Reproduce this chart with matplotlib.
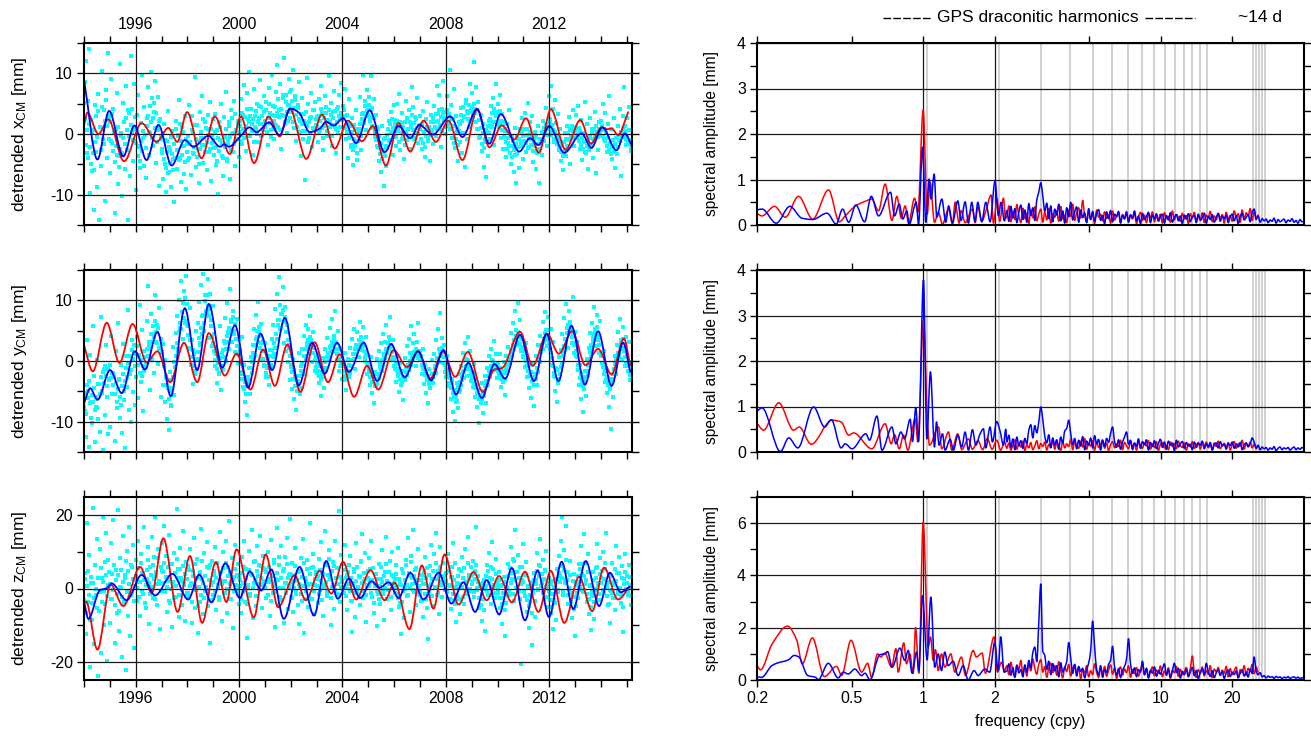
import numpy as np
import matplotlib
matplotlib.use("Agg")
import matplotlib.pyplot as plt
from matplotlib.path import Path
from matplotlib.patches import PathPatch
from matplotlib.lines import Line2D
from matplotlib.ticker import MultipleLocator, FixedLocator, FixedFormatter, NullLocator

plt.rcParams['font.family'] = ['Liberation Sans', 'DejaVu Sans']
plt.rcParams['mathtext.default'] = 'regular'
plt.rcParams['axes.unicode_minus'] = False

# ---------------------------------------------------------------- time series
# smoothed geocenter motion (year, mm): red = SLR, blue = GPS
x_red = [(1994.00, 1.4), (1994.13, 3.5), (1994.56, 0.0), (1994.94, 2.4), (1995.55, -4.5), (1996.23, 1.8),
         (1996.81, -1.3), (1997.26, 1.0), (1997.61, -1.3), (1997.99, 3.6), (1998.55, -4.0), (1999.06, 2.9),
         (1999.64, -3.3), (2000.07, 2.9), (2000.58, -4.8), (2001.14, 2.9), (2001.57, -0.4), (2001.96, 4.2),
         (2002.60, -4.1), (2003.21, 3.2), (2003.70, -2.4), (2004.21, 2.2), (2004.76, -1.2), (2005.17, 1.3),
         (2005.68, -5.2), (2006.17, 1.8), (2006.62, -2.9), (2007.14, 2.2), (2007.61, -1.3), (2008.10, 2.2),
         (2008.64, -4.3), (2009.22, 4.1), (2009.68, -2.2), (2010.16, 1.4), (2010.65, -0.9), (2011.10, 2.6),
         (2011.60, -3.1), (2012.06, 4.1), (2012.63, -2.6), (2013.20, 2.3), (2013.61, -1.6), (2014.02, 1.1),
         (2014.25, 0.8), (2014.42, 0.9), (2014.66, -0.2), (2015.05, 3.6)]
x_blue = [(1994.00, 9.0), (1994.52, -4.2), (1994.97, 3.8), (1995.52, -3.7), (1995.95, 1.4), (1996.42, -4.3),
          (1996.88, 1.5), (1997.39, -5.2), (1997.90, -1.0), (1998.23, -2.1), (1998.81, -0.3), (1999.26, -2.1),
          (1999.43, -1.7), (1999.60, -2.1), (2000.03, -0.5), (2000.41, 1.1), (2000.67, 0.3), (2001.16, 1.9),
          (2001.57, -0.2), (2001.98, 4.2), (2002.32, 3.5), (2002.73, 0.3), (2003.12, 0.9), (2003.37, 2.0),
          (2003.66, 1.4), (2004.02, 2.6), (2004.53, -1.5), (2005.05, 3.9), (2005.63, -3.0), (2006.17, 1.3),
          (2006.62, -0.7), (2006.97, 1.5), (2007.49, -0.1), (2008.17, 2.9), (2008.64, -0.5), (2009.20, 4.1),
          (2009.68, -1.6), (2010.12, 3.3), (2010.84, -2.9), (2011.25, -0.7), (2011.58, -1.8), (2012.00, 1.3),
          (2012.58, -3.1), (2013.25, 0.1), (2013.63, -2.3), (2014.05, 1.1), (2014.60, -2.7), (2014.92, 0.1),
          (2015.18, -1.8)]

y_red = [(1994.00, 2.6), (1994.34, -1.7), (1994.88, 6.3), (1995.37, -0.3), (1995.88, 6.1), (1996.42, -0.2),
         (1996.84, 1.6), (1997.33, -3.5), (1997.87, 3.0), (1998.38, -3.5), (1998.83, 4.6), (1999.45, -2.4),
         (1999.90, 1.2), (2000.44, -4.7), (2000.93, 1.9), (2001.38, -4.1), (2001.87, 2.7), (2002.37, -5.1),
         (2002.92, 3.1), (2003.44, -3.5), (2003.89, 1.1), (2004.45, -5.9), (2004.95, -0.8), (2005.38, -4.7),
         (2005.98, 1.8), (2006.50, -1.0), (2006.92, 1.6), (2007.40, -2.9), (2007.88, 1.6), (2008.36, -2.6),
         (2008.85, 1.5), (2009.43, -5.1), (2009.88, -1.4), (2010.16, -1.2), (2010.87, 4.8), (2011.36, -0.8),
         (2011.91, 4.5), (2012.37, 1.2), (2012.89, 4.9), (2013.40, -0.7), (2013.89, 2.0), (2014.41, -2.2),
         (2014.89, 3.7), (2015.13, -0.7)]
y_blue = [(1994.00, -7.0), (1994.24, -4.5), (1994.52, -6.4), (1995.01, -1.5), (1995.46, -5.3), (1995.97, 1.6),
          (1996.36, -1.4), (1996.84, 4.8), (1997.36, -5.8), (1997.90, 8.7), (1998.38, -1.5), (1998.83, 9.4),
          (1999.35, -1.1), (1999.84, 5.9), (2000.35, -4.4), (2000.83, 4.5), (2001.28, -1.5), (2001.77, 7.1),
          (2002.31, -4.0), (2002.82, 3.0), (2003.31, -2.1), (2003.79, 3.0), (2004.25, -1.8), (2004.82, 3.0),
          (2005.34, -3.3), (2005.88, 2.8), (2006.41, -2.7), (2006.92, 1.6), (2007.43, -3.2), (2007.91, 1.8),
          (2008.39, -5.5), (2008.87, -0.3), (2009.39, -6.1), (2009.88, -0.5), (2010.29, -2.9), (2010.87, 4.3),
          (2011.41, -3.3), (2011.90, 4.5), (2012.35, -3.3), (2012.86, 5.8), (2013.38, -3.9), (2013.89, 4.9),
          (2014.41, -4.1), (2014.86, 3.0), (2015.13, -1.8)]

z_red = [(1994.00, -3.9), (1994.08, -3.6), (1994.52, -16.7), (1995.03, 1.1), (1995.52, -4.8), (1996.17, 5.9),
         (1996.62, -1.2), (1997.07, 13.7), (1997.62, -6.4), (1998.10, 8.9), (1998.57, -9.4), (1999.10, 7.2),
         (1999.51, -3.7), (1999.90, 10.7), (2000.57, -7.9), (2001.03, 9.3), (2001.51, -5.1), (2002.15, 3.6),
         (2002.58, -3.2), (2003.12, 4.8), (2003.57, -1.4), (2004.02, 7.3), (2004.53, -3.0), (2005.08, 5.0),
         (2005.63, -3.2), (2006.02, 1.6), (2006.59, -11.1), (2007.07, 6.3), (2007.52, -5.5), (2007.95, 9.3),
         (2008.49, -4.4), (2009.07, 4.5), (2009.58, -3.2), (2010.06, 3.4), (2010.55, -3.8), (2011.06, 4.6),
         (2011.58, -6.4), (2012.06, 4.8), (2012.58, -9.4), (2013.15, 3.2), (2013.66, -6.2), (2014.12, 5.7),
         (2014.66, -3.0), (2015.11, 0.5)]
z_blue = [(1994.00, -3.5), (1994.17, -8.3), (1994.62, -0.4), (1994.85, 0.0), (1995.07, 1.4), (1995.65, -3.2),
          (1996.23, 3.7), (1996.75, -1.9), (1997.42, 4.0), (1998.03, -3.0), (1998.46, 3.8), (1998.93, -3.8),
          (1999.47, 6.9), (2000.03, -2.6), (2000.41, 4.7), (2000.86, -0.5), (2001.25, 5.2), (2001.73, -8.3),
          (2002.34, 5.9), (2002.90, -7.4), (2003.37, 7.5), (2003.82, -2.8), (2004.25, 2.7), (2004.69, -2.6),
          (2005.12, 2.0), (2005.43, 0.2), (2005.79, 1.7), (2006.17, -2.6), (2006.62, 4.3), (2007.14, -3.0),
          (2007.72, 4.3), (2008.21, -4.1), (2008.68, 1.7), (2009.13, -6.4), (2009.58, 2.3), (2010.06, -7.1),
          (2010.55, 5.6), (2011.06, -8.7), (2011.55, 4.9), (2011.99, -7.8), (2012.48, 7.3), (2012.93, -5.6),
          (2013.41, 7.5), (2013.93, -4.8), (2014.34, 4.3), (2014.77, -1.0), (2015.11, 0.5)]

# raw daily solutions, thinned to two values every 0.04 yr (a wide pass and a core pass),
# one row per year (mm)
pts_start_year = 1994
pts_step = 0.04
x_pts = [
    [8.5, 12.1, -3.2, 5.4, 14.0, -9.8, 2.3, -6.1, 0.7, -12.5, 4.8, -2.9, -8.7, 6.6, -14.2, 1.2, -5.3, 10.4, -0.8, 3.9, -11.1, 7.2, -4.0, 13.3, 2.6],
    [-6.4, 9.1, -1.5, 4.2, -13.0, 0.9, 6.8, -8.2, -3.7, 11.6, -0.4, -10.3, 5.1, 2.0, -5.8, 7.9, -2.6, -14.1, 3.4, -7.0, 12.8, 0.3, -4.5, 8.3, -1.1],
    [-9.2, 3.1, 6.4, -2.2, -5.6, 1.8, 9.7, -0.6, 4.5, -7.3, 2.7, 7.8, -3.4, 0.2, 10.3, 5.9, -1.9, 3.6, 8.8, -4.7, 1.0, 6.1, -8.5, 2.4, -0.9],
    [-3.1, -7.4, 1.6, -5.0, -9.6, -1.2, 3.8, -6.3, -2.7, -8.8, 0.5, -4.1, -11.2, 2.2, -5.7, -0.3, 5.6, -3.9, -7.9, 1.1, -2.0, -6.6, 3.0, -9.0, -1.6],
    [-4.3, 4.7, -1.4, -6.8, 2.9, 0.1, -3.3, 9.4, -5.5, 1.5, -2.5, -8.1, 3.7, -0.7, 6.3, -4.8, -1.8, 2.0, -6.0, 0.8, -3.0, 5.2, -7.7, -0.2, 2.5],
    [-2.3, 3.3, -5.1, 0.6, -9.9, 1.9, -1.0, 4.9, -3.6, -6.9, 2.8, -0.5, 7.0, -4.4, -1.7, 1.4, -7.4, 3.9, 0.0, -2.9, 5.5, -5.2, -0.9, 2.1, -3.8],
    [1.3, 5.8, -1.6, 3.2, 8.1, 0.4, -2.8, 6.7, 2.4, 10.2, -0.3, 4.1, 1.7, -3.5, 7.4, 3.0, 0.9, 5.0, -1.3, 2.6, 8.9, 4.4, -0.1, 1.6, 6.2],
    [2.1, 5.3, -1.8, 7.6, 3.5, 0.7, 9.8, 4.6, -0.9, 2.9, 6.9, 11.4, 1.2, 4.0, 8.3, -2.4, 3.1, 5.9, 12.6, 1.9, 6.5, 0.2, 4.8, 9.1, 2.7],
    [7.3, 3.8, 10.5, 1.0, 5.6, -1.2, 4.3, 8.6, 2.2, -3.6, 6.0, 0.5, 3.3, -7.5, 1.8, 9.3, 4.9, -0.6, 2.6, 6.8, -2.1, 3.9, 0.9, 5.2, 1.5],
    [2.8, -1.4, 5.7, 0.6, 7.9, 3.4, -2.6, 1.3, 6.2, 4.5, -0.4, 9.6, 2.0, 5.1, -1.9, 3.6, 7.1, 1.1, -3.2, 4.2, 0.3, 6.4, 2.5, 8.4, 3.0],
    [4.6, 1.2, 7.5, -0.8, 3.1, -3.9, 5.8, 0.2, -2.2, 2.7, -5.1, 1.5, -1.3, 4.0, -4.3, 0.8, 6.1, -2.7, 3.3, 9.8, 2.4, 5.5, 0.6, 7.2, 3.9],
    [6.1, 2.8, 9.6, 4.3, 1.0, 5.7, -0.5, 3.2, -2.0, 0.9, -4.4, -1.6, -6.3, 1.4, -3.0, -8.6, -0.7, -5.2, -2.3, 2.1, -1.0, 3.6, 0.4, -3.4, 4.7],
    [2.3, -1.9, 4.9, 0.5, 6.6, -2.7, 1.8, 3.5, -0.3, -4.1, 2.0, 5.4, -1.0, 0.8, 3.9, -2.4, 1.3, 7.7, 4.4, -0.8, 2.8, 0.1, 5.9, -1.5, 3.0],
    [1.5, -2.5, 3.8, 0.3, -3.8, 2.4, 5.2, -0.9, 1.1, -4.5, 3.1, 0.6, -1.7, 4.6, 2.0, -0.4, 7.9, 3.3, 6.4, 1.0, -2.2, 4.1, 8.8, 2.6, 0.0],
    [3.7, 6.3, 1.4, 10.6, 4.8, -0.6, 2.5, 7.4, -2.3, 3.0, 0.7, -4.4, 1.9, -1.3, 4.3, -3.1, 0.2, 2.8, -5.5, 5.6, -0.9, 3.5, 1.1, 8.2, 4.0],
    [6.7, 2.9, 11.9, 4.2, 7.8, 0.9, 5.3, -0.6, 3.1, -2.8, 1.6, -5.4, -1.4, -7.1, 0.4, -3.6, 2.2, -0.9, 4.6, 1.3, 6.0, -1.8, 3.4, 8.3, 2.0],
    [4.9, 1.2, 6.5, -0.7, 3.3, -2.4, 2.0, 0.5, -3.8, 1.7, -1.5, 4.0, -4.9, -0.3, -2.0, -6.2, 1.0, -8.0, -3.3, -0.8, -5.6, 0.9, -1.9, 2.6, -4.1],
    [-1.1, 3.4, -3.0, 0.8, 5.1, -2.2, 1.9, -0.4, 3.0, -4.6, -1.6, 0.3, -5.8, -2.7, 1.4, -8.1, -0.9, -3.5, 2.2, -1.2, 0.6, 4.3, -2.0, 1.1, 6.2],
    [2.5, 7.9, 0.4, 4.1, -1.3, 5.6, 1.8, -0.2, 3.3, -2.6, 0.9, -4.4, -1.7, -6.0, -2.9, 0.1, -3.7, 1.4, -0.8, 2.8, -5.0, 0.6, 3.9, -1.9, 1.2],
    [3.1, -0.5, 4.6, 1.0, -2.4, 2.3, -4.3, 0.2, -1.4, 5.3, -3.1, 1.6, -5.7, -0.7, 2.7, -2.0, 0.8, -4.0, -1.1, 3.6, -6.4, 0.4, -2.6, 1.9, -0.3],
    [2.2, 5.0, -0.9, 3.4, 0.5, -2.9, 1.7, 6.3, -1.5, 0.9, -4.1, -2.2, 2.6, -5.6, -0.6, -3.3, 1.3, -1.0, 4.1, -7.0, 0.3, 3.0, 7.8, 1.4, -1.8],
    [2.6, -1.2, 4.4, 0.7, -2.8],
]
x_pts_core = [
    [5.1, 2.4, -1.8, 0.6, -3.9, 1.7, -2.2, -5.0, 0.2, -3.1, -6.0, -1.4, 2.9, -0.5, 3.8, 1.1, -2.7, 4.5, 0.8, -1.6, 2.2, 5.6, 1.4, 3.0, -0.9],
    [2.0, -1.2, 3.3, -2.8, 0.4, -4.6, -1.9, -3.5, 1.2, -5.4, -2.4, 0.1, -3.2, -0.6, 1.9, -1.7, 2.6, 0.7, 3.9, -0.3, 1.5, 4.1, -1.0, 0.9, 2.8],
    [-1.5, 0.8, -3.6, -2.0, -4.4, -1.1, -2.8, 0.5, -5.2, -0.2, -2.3, 1.4, 3.0, 0.3, 4.6, 1.9, -0.7, 2.7, 5.1, 1.0, 3.4, -1.4, 0.6, 2.2, -0.4],
    [-2.4, 0.2, -4.1, -1.0, -5.6, -3.0, -6.4, -2.1, -4.8, -0.5, -3.3, -5.9, -1.6, -3.9, 0.9, -2.6, -0.1, -4.3, 1.6, -1.2, -3.5, 0.4, -2.0, -4.6, -0.8],
    [-2.9, -0.4, -4.0, -1.6, 0.7, -3.2, -2.2, 1.5, -0.9, -3.8, -1.1, -5.0, -2.5, 0.3, -1.8, 2.4, -0.6, -2.9, 1.0, -1.3, 3.1, -0.2, -2.4, 0.9, -1.5],
    [-1.0, -3.4, 0.4, -2.1, -4.5, -0.7, -2.8, 1.2, -1.5, -3.9, -0.3, -2.2, 0.8, -4.1, -1.2, 1.9, -0.5, -2.6, 2.6, 0.1, -1.7, 3.3, 0.6, -0.9, 1.5],
    [0.3, 2.2, -1.1, 3.5, 0.9, -0.6, 2.8, 1.4, 4.1, -0.2, 1.9, 3.0, 0.5, 2.5, -1.3, 1.1, 3.8, 0.0, 2.0, 4.6, 1.6, -0.4, 2.9, 0.7, 3.6],
    [1.2, 3.9, 0.4, 2.6, 5.0, 1.8, -0.5, 3.1, 0.9, 2.2, 4.4, 1.5, 3.4, 5.8, 2.8, 0.6, 4.1, 6.5, 3.0, 1.7, 5.3, 3.6, 2.1, 4.8, 6.9],
    [3.6, 5.5, 2.0, 4.3, 6.2, 3.1, 1.2, 4.7, 2.5, 0.3, 3.3, 1.6, -0.8, 2.2, 0.5, 3.7, 1.3, -1.4, 1.9, 0.2, 2.8, 1.0, 3.9, 0.6, 2.4],
    [1.4, 3.0, 0.2, 2.1, 4.2, 1.0, -0.7, 2.6, 1.7, 3.5, 0.5, 2.3, 4.0, 1.2, 3.2, -0.3, 2.7, 1.5, 3.8, 0.9, 2.0, 4.5, 2.9, 1.1, 3.4],
    [2.3, 3.9, 1.0, 2.9, 0.4, 2.0, -0.6, 1.3, -1.8, 0.3, -2.7, -0.9, -1.9, 0.8, -3.2, -1.2, 0.1, 1.6, -0.4, 2.5, 3.4, 1.8, 4.6, 2.9, 3.8],
    [3.2, 4.8, 2.1, 3.9, 1.4, 2.7, 0.3, -1.0, 1.2, -2.2, -0.4, -3.3, -1.5, -4.1, -2.6, -0.8, -3.7, -1.9, -0.2, 0.9, -1.1, 1.7, 0.2, 2.4, 1.0],
    [0.5, 1.6, -0.5, 2.2, 0.8, -1.3, 1.9, 0.1, -0.9, 1.1, -1.8, 0.4, 2.7, 0.9, -0.4, 2.0, 1.2, 3.1, 0.6, 1.8, -0.7, 2.5, 1.0, 0.0, 1.5],
    [0.9, -0.8, 1.6, -1.5, 0.3, -2.1, -0.4, 1.2, -1.1, 0.6, -0.2, 1.9, 0.4, 2.6, 1.1, 3.3, 0.8, 2.2, 3.9, 1.5, 2.8, 0.5, 3.5, 2.1, 1.2],
    [2.7, 4.0, 1.8, 3.3, 0.9, 2.4, -0.6, 1.3, -1.5, 0.2, -0.9, 1.0, -1.8, 0.5, 1.7, 3.1, 2.2, 4.4, 3.0, 5.1, 3.8, 2.5, 4.7, 1.9, 3.6],
    [4.3, 2.8, 5.0, 3.5, 1.9, 3.9, 0.8, 2.3, -0.5, 1.0, -1.6, 0.1, -2.3, -0.9, 0.6, -1.4, 1.4, 0.2, 2.5, 1.1, 3.4, 2.0, 4.2, 2.9, 3.7],
    [3.0, 1.5, 3.8, 2.2, 0.6, 1.6, -0.5, 0.9, -1.3, -2.4, -0.7, -1.9, -3.2, -2.0, -3.8, -1.1, -2.7, -3.5, -1.6, -0.4, -2.2, -0.9, 0.5, -1.3, 0.1],
    [-0.4, 0.8, -1.5, -0.2, -2.3, -0.9, 0.4, -1.8, -0.6, -2.8, -1.2, -2.0, -0.5, -3.1, -1.6, -2.4, -0.8, -1.7, 0.3, -0.9, 1.0, 0.2, 1.7, -0.1, 0.9],
    [1.1, 2.0, -0.2, 1.5, 0.6, -0.8, 0.3, -1.6, -0.5, -2.2, -1.1, -3.0, -2.0, -3.6, -1.4, -2.7, -0.8, -1.9, 0.2, -1.0, 0.8, -0.3, 1.3, 0.5, -0.6],
    [0.4, -0.6, 1.0, -0.1, -1.2, 0.5, -1.8, -0.7, -2.5, -1.4, -3.0, -2.0, -1.1, -2.6, -0.4, -1.6, 0.3, -0.8, 0.9, -0.2, 1.4, 0.1, -0.5, 0.8, 0.0],
    [0.7, 1.3, -0.3, 0.8, -1.1, 0.2, -1.9, -0.7, -2.6, -1.5, -3.3, -2.2, -1.0, -2.9, -1.7, -0.6, -2.1, -0.2, -1.2, 0.4, -0.5, 0.9, -0.3, 0.5, -1.0],
    [-0.5, -1.7, 0.6, -1.0, -2.2],
]
y_pts = [
    [-8.2, -12.6, 3.4, -4.9, -14.1, 1.0, -6.7, -10.3, 5.8, -2.5, -13.4, -7.5, 0.2, -9.6, -3.8, -11.7, 7.2, -5.3, -14.6, -1.4, -8.9, 2.7, -6.0, -12.0, -3.1],
    [-10.8, 4.1, -5.5, -1.9, -13.2, 1.6, -7.8, 6.3, -3.0, -9.4, -0.6, -11.9, 2.8, -6.4, -14.4, 0.9, -4.3, 8.4, -8.0, -2.2, -10.1, 3.5, -5.1, 1.3, -7.2],
    [-2.6, 3.9, -6.1, 0.8, 9.2, -3.4, 5.1, -8.3, 1.7, -1.0, 6.6, 12.4, 2.5, -4.8, 7.8, 0.3, 4.4, -2.0, 10.8, 3.1, 6.0, -0.5, 8.7, 2.0, -5.9],
    [1.5, -3.9, -0.7, -6.8, -2.4, -9.6, -4.5, -11.3, -1.8, -7.2, -3.1, 2.3, -0.2, 4.6, 7.5, 1.9, 10.1, 5.4, 13.2, 8.0, 3.6, 11.5, 6.3, 14.0, 9.4],
    [5.7, 2.0, 8.8, -0.6, 3.5, -3.8, 1.2, -1.7, 4.9, 0.4, 6.2, 9.7, 3.0, 12.6, 7.4, 14.3, 5.0, 10.9, 8.1, 13.5, 3.8, 11.1, 6.7, 2.5, 9.0],
    [4.4, -0.8, 2.2, -3.6, 0.6, -2.1, 5.8, -4.7, 1.3, -1.5, 3.3, 7.1, 0.0, 9.5, 4.8, 2.0, 11.8, 6.4, 3.1, 8.2, 5.0, 1.5, 6.9, -0.3, 3.7],
    [1.8, -2.2, 3.9, -4.3, -0.6, -6.7, -2.8, -8.9, -3.9, -1.1, -5.5, 0.7, -2.0, 2.6, 5.3, 1.0, 7.6, 3.9, 9.8, 4.7, 2.2, 6.1, 0.4, 3.3, -0.9],
    [2.9, -2.6, 0.5, -4.0, 1.8, -0.7, 3.6, 5.9, 1.2, 8.6, 4.4, 11.0, 6.8, 13.9, 9.2, 5.5, 7.7, 12.2, 3.0, 8.9, 1.6, 6.0, -0.2, 2.7, -3.1],
    [-1.0, -4.6, 0.3, -6.2, -2.5, -8.0, -3.3, 1.4, -5.4, -0.9, 2.0, -2.2, 4.1, 0.8, 6.0, 2.9, 5.2, 1.1, 7.4, 3.5, -0.1, 4.7, 2.2, -1.6, 0.6],
    [-1.9, 1.0, -3.7, -0.4, -5.8, -2.3, 0.5, -4.4, 1.9, -1.2, 3.8, 0.7, 5.5, 2.4, 6.9, 1.5, 4.2, 8.2, 3.0, 0.2, 5.0, -1.6, 2.1, -0.7, -3.0],
    [-0.5, -3.2, 1.4, -4.8, -1.9, 0.3, -2.6, 2.2, -0.8, 3.6, 1.1, 5.3, -1.4, 2.7, 4.8, 0.6, 6.4, 3.2, 1.8, 5.6, 2.4, 0.0, 3.9, -2.2, 1.0],
    [-1.2, -3.9, 0.7, -5.3, -2.6, -6.9, -1.8, -4.2, 0.4, -2.9, 1.6, -0.5, 2.9, -1.6, 4.4, 0.9, 3.1, 5.9, 1.7, 4.0, 7.2, 2.3, 0.1, 3.4, -0.9],
    [-1.4, -3.5, 0.8, -2.2, -5.1, -0.3, -4.0, -1.7, -6.4, -2.8, 0.5, -1.0, 2.4, -0.6, 3.7, 1.3, 5.8, 0.2, 2.9, 4.5, 1.0, -0.9, 3.2, 6.3, 1.6],
    [0.4, -2.1, 1.9, -3.8, -0.7, -5.2, -2.5, -7.0, -1.3, -4.4, -2.9, 0.2, -3.6, 1.2, -0.9, 3.4, 0.5, 5.2, 2.0, 7.9, 1.3, 3.8, -0.4, 2.6, -1.8],
    [-2.6, 0.9, -4.1, -1.5, -6.3, -3.0, -8.4, -5.1, -9.9, -6.7, -3.6, -7.8, -2.2, -4.7, -0.8, -3.1, 1.4, -1.6, 2.9, 0.3, -2.4, 4.0, -0.9, 1.7, -3.3],
    [-1.8, -4.3, -0.5, -6.0, -2.9, -7.6, -4.8, -10.2, -6.4, -3.7, -8.5, -5.5, -2.4, -6.9, -1.2, -3.9, 0.8, -2.6, 2.0, 0.1, -1.5, 3.3, -0.6, 1.2, -2.8],
    [-0.4, -2.7, 1.1, -4.3, -1.6, -3.4, -0.2, -5.6, 0.9, -1.9, 2.3, 0.2, 4.6, 1.5, 6.2, 3.4, 8.3, 5.1, 2.7, 9.6, 4.2, 6.8, 1.9, 3.6, 0.6],
    [1.7, -1.0, 2.9, -2.6, 0.2, -4.5, -1.8, -6.1, -3.3, -0.5, -7.4, -2.1, 0.8, -3.9, 2.6, 0.4, 4.1, 1.9, 6.5, 3.2, 8.0, 5.1, 2.4, 7.2, 3.8],
    [2.0, 5.3, -0.6, 3.1, -2.4, -4.9, -1.2, -6.8, -3.5, 0.6, -2.2, 1.8, 4.4, 0.9, 7.1, 3.6, 9.4, 5.5, 2.2, 8.3, 6.0, 3.0, 10.5, 1.4, 4.7],
    [0.8, 3.2, -1.5, -4.0, -0.7, -6.2, -2.9, -8.4, -4.6, -1.6, -5.8, 0.4, -2.3, 2.1, 4.6, 0.9, 6.2, 3.3, 8.9, 5.0, 2.4, 7.6, 4.1, 1.3, 6.6],
    [2.8, -0.5, 1.6, -3.4, -1.2, -5.3, -2.6, -7.6, -4.4, -11.2, -3.0, -6.0, -1.4, 0.9, -2.2, 2.6, 4.8, 1.3, 6.9, 3.5, 0.4, 5.6, 2.1, -0.8, 3.9],
    [1.0, -1.6, 3.1, -3.2, -0.4],
]
y_pts_core = [
    [-7.5, -5.2, -8.8, -4.0, -6.1, -3.3, -7.0, -9.4, -5.6, -6.8, -4.4, -8.1, -6.0, -7.7, -3.8, -5.4, -2.6, -4.9, -1.8, -3.7, -0.9, -2.5, -4.2, -1.3, -2.9],
    [-0.6, -2.8, -1.9, -4.0, -2.7, -5.5, -3.6, -6.8, -4.6, -3.1, -5.9, -7.2, -4.1, -2.2, -5.0, -3.3, -1.2, -2.6, -0.3, 0.9, -1.5, 1.8, 0.4, 2.6, -0.8],
    [1.2, 2.4, -0.6, 1.0, -1.9, 0.2, -2.5, -0.8, -1.6, 0.6, -0.3, 1.9, 0.8, 3.2, 2.0, 4.5, 3.1, 5.8, 3.9, 6.6, 4.7, 3.0, 5.4, 2.2, 3.6],
    [1.4, 2.8, -0.9, 0.2, -2.7, -4.0, -3.1, -6.2, -5.0, -7.4, -4.4, -2.6, -5.6, -1.0, 0.8, 2.9, 1.7, 4.8, 6.3, 5.2, 8.0, 9.6, 7.1, 10.4, 6.6],
    [6.0, 4.3, 2.1, 3.5, 0.6, 1.8, -0.9, -2.2, 0.3, -1.4, 1.5, 3.8, 2.6, 5.4, 4.4, 7.6, 6.3, 9.9, 8.2, 10.8, 9.1, 7.5, 8.6, 5.7, 4.0],
    [3.0, 1.6, 0.2, 1.1, -1.3, -0.4, -2.0, 0.5, -0.9, 1.8, 0.7, 2.9, 1.9, 4.1, 3.2, 5.5, 4.6, 6.8, 5.1, 7.3, 4.4, 6.1, 3.6, 2.4, 1.2],
    [1.0, -0.5, -1.8, -3.0, -2.2, -4.6, -3.5, -5.5, -4.1, -2.6, -3.3, -1.1, -0.2, 1.3, 0.5, 2.7, 3.6, 4.9, 3.1, 5.6, 4.2, 2.9, 1.6, 0.3, -0.7],
    [-0.8, -2.0, -1.1, -2.7, -0.4, 0.9, -1.3, 1.8, 0.6, 3.0, 2.2, 4.4, 3.6, 5.9, 6.8, 5.2, 7.7, 8.4, 6.5, 7.3, 4.8, 5.9, 3.4, 2.1, 0.8],
    [-0.6, -1.8, -2.9, -1.5, -4.2, -3.1, -5.0, -3.8, -2.4, -4.4, -1.7, -0.5, -2.0, 0.8, 1.9, 0.3, 2.6, 3.5, 2.0, 3.9, 2.8, 1.4, 2.3, 0.2, -1.0],
    [-0.5, -1.6, -2.4, -0.9, -3.0, -1.8, -2.7, -1.2, -0.1, -1.5, 0.6, 1.4, 0.4, 2.3, 1.7, 3.2, 2.5, 3.8, 2.0, 3.1, 1.2, 1.9, 0.3, -0.8, -0.2],
    [-0.9, -1.7, -2.5, -1.2, -2.9, -1.6, -0.6, -2.0, 0.2, -0.8, 1.1, 0.4, 1.9, 1.2, 2.7, 2.0, 3.4, 2.6, 3.9, 2.2, 3.0, 1.6, 0.7, 1.3, -0.3],
    [-0.6, -1.5, -2.6, -1.8, -3.4, -2.5, -4.2, -3.0, -3.8, -2.1, -2.8, -1.0, -1.7, 0.1, -0.6, 1.2, 0.5, 2.0, 1.4, 2.9, 2.2, 3.4, 2.6, 1.5, 0.7],
    [0.2, -0.9, -0.3, -1.6, -2.4, -1.3, -2.9, -2.0, -3.5, -2.6, -3.2, -1.8, -2.3, -0.9, -1.5, 0.0, -0.7, 0.9, 0.3, 1.5, 0.8, 1.9, 1.2, 0.5, 1.6],
    [0.2, 0.9, -0.7, -1.4, -0.9, -2.3, -1.6, -3.1, -2.4, -3.8, -2.9, -3.4, -2.1, -2.7, -1.2, -1.9, -0.4, 0.5, -0.2, 1.3, 0.8, 2.1, 1.5, 0.6, -0.6],
    [-1.4, -2.5, -1.9, -3.6, -2.8, -4.4, -3.7, -5.2, -6.0, -4.8, -5.9, -6.6, -4.3, -5.1, -3.4, -3.9, -2.5, -1.8, -2.8, -0.9, -1.4, 0.2, -0.6, -1.3, -2.2],
    [-2.8, -1.9, -3.6, -4.5, -3.9, -5.3, -4.8, -6.3, -5.6, -7.0, -6.2, -5.0, -5.7, -4.2, -3.3, -3.8, -2.4, -1.6, -2.2, -0.8, -1.1, 0.0, -0.6, -1.5, -0.9],
    [-1.6, -2.3, -1.2, -3.0, -2.6, -3.5, -2.0, -2.9, -1.4, -0.6, -1.7, 0.4, -0.3, 1.6, 0.9, 2.6, 1.9, 3.5, 4.2, 3.1, 4.8, 3.9, 2.8, 1.7, 2.3],
    [0.8, 1.9, 0.0, -0.9, -1.7, -0.6, -2.5, -1.8, -3.3, -2.6, -3.9, -2.2, -3.0, -1.2, -1.8, 0.3, -0.2, 1.5, 2.6, 1.9, 3.7, 4.6, 3.5, 5.1, 4.0],
    [2.8, 3.6, 1.4, 0.5, -0.8, -1.9, -2.7, -1.5, -3.6, -2.9, -2.2, -1.0, -0.3, 1.1, 2.4, 1.8, 3.7, 4.6, 5.9, 4.9, 6.4, 5.3, 3.9, 4.5, 2.6],
    [3.0, 1.7, 0.6, -0.7, -1.5, -2.8, -2.1, -3.6, -4.2, -3.3, -2.6, -1.7, -0.6, 0.4, 1.5, 2.7, 2.0, 3.8, 4.5, 5.3, 4.2, 5.6, 3.4, 2.6, 1.4],
    [0.9, -0.3, -1.0, -2.2, -1.6, -3.1, -2.6, -4.0, -3.4, -4.6, -3.7, -2.9, -2.1, -1.4, -0.5, 0.4, 1.3, 0.8, 2.4, 3.1, 2.0, 3.6, 1.7, 0.6, -0.4],
    [-0.9, -1.6, -0.2, -2.3, -1.1],
]
z_pts = [
    [4.2, -12.5, 17.8, -3.6, 9.1, -21.4, 1.5, -8.7, 22.0, -15.3, 6.4, -1.9, 13.6, -24.0, -6.2, 10.8, -17.5, 2.9, 19.4, -10.1, -4.3, 15.2, -19.8, 7.7, 0.6],
    [-9.4, 12.3, -2.8, 18.6, -14.9, 5.0, -6.8, 21.5, -11.6, 8.2, 0.1, -18.7, 14.4, -4.1, 3.6, -22.3, 10.2, -7.5, 16.9, -13.0, 6.3, -0.9, 11.8, -16.2, 2.4],
    [7.9, -3.3, 13.0, 1.8, -7.6, 9.5, 4.1, -1.5, 16.8, -5.2, 2.6, 11.4, -9.8, 6.0, 0.3, 14.1, -2.7, 8.6, 19.6, 3.5, -4.4, 10.7, 1.2, -11.0, 5.8],
    [12.5, 4.4, 17.2, -0.8, 8.9, -6.3, 2.1, 14.6, -3.9, 6.6, -10.4, 0.7, 9.8, -2.2, 21.8, 5.3, -7.9, 11.0, 3.0, -4.6, 15.7, 1.6, -8.8, 7.2, -1.1],
    [6.1, -2.4, 10.9, 1.4, -9.3, 4.8, 13.8, -5.4, 0.0, 8.0, -12.1, 3.2, -3.7, 16.3, 2.5, -7.1, 9.6, -0.6, 12.7, -4.9, 5.5, -14.8, 1.9, 7.6, -1.8],
    [3.8, 11.3, -5.9, 7.0, 0.9, -3.1, 15.4, 4.6, -9.0, 9.9, 2.0, -1.3, 13.1, -6.6, 5.9, 18.5, 1.2, -2.9, 8.4, -10.7, 3.1, 12.0, -0.4, 6.8, -4.2],
    [2.2, -6.8, 8.7, -1.0, 12.9, -3.6, 5.2, -13.4, 0.5, 10.3, -2.1, 4.0, 16.1, -8.1, 1.6, 7.4, -4.8, 11.7, 3.3, -0.2, 14.3, 6.2, -5.3, 9.0, 0.8],
    [5.0, -2.6, 10.0, 1.9, -7.4, 13.3, 3.8, -1.2, 7.9, -10.6, 2.7, 16.5, -4.5, 6.3, 0.2, 11.6, -3.2, 4.9, -9.5, 8.5, 1.4, 13.9, -5.7, 3.6, 19.0],
    [-2.2, 6.9, -6.4, 2.1, 11.2, -1.4, 4.6, -9.7, 0.4, 8.4, -3.5, 13.6, -12.2, 3.0, -0.7, 7.7, -5.0, 1.3, 17.9, 5.6, -2.9, 9.3, -7.1, 0.9, 4.0],
    [2.5, -4.0, 8.1, -0.3, 12.6, 4.3, -7.5, 1.0, 15.8, 6.5, -2.0, 10.4, 3.1, -10.1, 0.5, 7.2, -5.5, 13.0, 2.8, -1.6, 5.7, 21.3, -3.8, 9.1, 1.7],
    [6.7, -1.1, 11.8, 2.9, -6.0, 4.4, 0.0, 8.8, -3.4, -11.9, 1.6, 5.3, -7.8, 12.4, -0.9, 3.5, -4.6, 7.5, 15.0, -2.5, 2.0, 9.7, -9.2, 0.7, 4.8],
    [8.3, 1.9, 12.9, -2.4, 5.6, -6.7, 0.8, 3.9, -10.3, -1.6, 6.8, -4.2, 2.6, 10.5, -0.5, -8.6, 4.5, 14.2, -3.0, 1.2, 7.4, -5.8, 9.9, 0.4, 3.2],
    [2.7, 6.4, -1.4, 11.1, -5.0, 1.5, -12.4, -3.6, 4.2, -8.0, 0.0, 7.8, -2.1, 13.7, 3.3, -6.3, 9.0, 1.1, 16.0, -0.9, 5.0, -4.4, 2.3, 10.8, -1.8],
    [-3.5, 3.7, -7.9, 1.3, 8.6, -2.8, 5.5, -13.9, -0.6, 6.1, 12.0, 2.5, -4.7, 9.5, 0.3, 15.2, -1.9, 4.9, -6.9, 11.4, 1.8, -2.3, 7.0, 3.4, -0.4],
    [4.1, -1.0, 9.4, 0.7, -5.7, 3.2, 12.5, -3.1, 6.9, -9.1, 1.6, -2.7, 5.3, -7.0, 0.2, 8.7, 2.9, -4.3, 10.9, 1.4, -1.5, 14.1, 3.8, -0.7, 6.0],
    [2.0, 7.6, -2.2, 4.8, 16.7, -0.3, 3.4, -5.2, 1.1, -8.8, -3.0, 2.4, -11.6, 0.6, 6.3, -1.7, 9.8, 3.0, -4.1, 12.7, 5.4, 0.9, -2.5, 8.0, 1.5],
    [-1.2, 4.5, -5.4, 1.0, -9.6, -2.6, 3.1, -13.0, -4.0, 0.4, 6.6, -1.8, 11.3, 2.7, 8.1, -3.3, 15.9, 4.6, 0.1, 9.2, -0.8, 5.9, -20.5, 2.2, 12.1],
    [3.6, -2.0, 7.2, -6.5, 0.8, -10.7, -3.8, 1.7, -15.4, -1.1, 4.2, -7.7, 2.3, 9.8, -0.4, 6.5, 13.4, 1.5, 7.9, -2.9, 4.7, 10.3, 0.6, -5.1, 3.0],
    [-1.4, -6.6, 2.1, -11.2, -3.1, 0.5, -8.5, 5.4, -0.9, 8.9, 3.3, 13.1, 19.5, -1.7, 10.4, 2.6, 17.2, 4.5, -4.2, 0.0, 7.4, -8.1, -2.4, 3.9, -12.9],
    [-4.8, 1.8, -2.6, 6.7, 0.4, 11.6, 3.9, -1.0, 14.8, 7.1, 2.3, -3.7, 9.4, -6.9, 0.9, -11.4, -2.1, 4.6, -8.4, -0.5, 5.5, 12.2, 1.6, -3.2, 8.3],
    [2.9, 10.1, -1.3, 5.2, 15.3, 0.7, -4.5, 3.6, -9.3, -0.8, 7.0, -2.7, 1.9, -6.0, 11.5, 4.1, -1.5, 8.6, 0.2, -3.9, 6.2, -11.8, 2.5, 9.5, -0.3],
    [3.3, -1.9, 6.4, 0.9, -4.6],
]
z_pts_core = [
    [-3.2, 2.5, -6.8, 0.6, 4.9, -1.8, -8.5, 3.1, -4.0, 1.4, -2.5, 6.3, 0.0, -5.2, 2.8, -1.0, 5.5, -3.6, 1.9, -0.6, 7.2, 3.6, -2.1, 0.9, 4.4],
    [1.1, -2.9, 4.0, -0.4, 6.5, -4.4, 2.3, -1.6, 3.7, -6.1, 0.5, 5.1, -2.2, 1.8, -3.8, 3.0, 7.6, -0.9, 4.7, 1.2, -1.9, 6.0, 2.6, -3.3, 0.8],
    [3.4, 0.2, 5.6, -2.4, 1.7, 6.9, -0.8, 4.1, 2.2, -3.9, 0.9, 5.0, 7.8, 1.4, -1.5, 3.8, 0.0, 6.3, 2.7, -2.8, 4.6, 1.1, 8.4, 2.0, -0.6],
    [4.8, 1.5, 7.1, -1.0, 3.2, 0.4, 5.9, -3.4, 2.5, -0.2, 6.6, 1.9, -2.6, 4.2, 0.7, 8.0, 3.0, -1.7, 5.3, 2.1, -0.5, 6.2, 1.0, 3.9, -2.0],
    [2.6, -1.3, 5.0, 0.8, -3.6, 3.5, 1.2, 6.8, -0.4, 2.9, -4.8, 0.3, 4.4, -1.9, 7.5, 1.6, -2.7, 3.3, 0.5, 5.8, -0.9, 2.4, 6.4, 1.0, -3.1],
    [1.8, 4.9, -0.7, 2.8, 7.0, 0.4, -2.3, 3.9, 1.3, 5.6, -1.2, 2.1, 6.9, 0.0, 3.4, -3.0, 4.6, 1.7, 8.2, 2.5, -0.8, 5.2, 0.9, 3.7, -1.6],
    [3.1, 0.6, -2.9, 4.3, 1.5, 6.0, -0.5, 2.8, -4.1, 1.0, 5.1, -1.4, 3.6, 0.2, 7.3, 2.3, -2.0, 4.8, 1.2, 6.4, -0.3, 3.0, 0.9, 5.5, 2.0],
    [0.4, 4.6, 1.9, -1.8, 5.9, 2.6, -3.5, 3.3, 0.7, 7.0, 1.6, -0.9, 4.2, 2.2, 8.5, -2.4, 3.0, 0.1, 5.4, 1.4, -1.2, 6.6, 2.9, 0.5, 4.0],
    [1.6, -2.5, 3.7, 0.2, 6.2, -0.9, 2.4, -4.6, 1.1, 4.8, -1.6, 3.1, 0.6, 7.1, -3.0, 2.0, 5.3, 0.9, -2.1, 3.9, 1.3, 6.0, -0.6, 2.7, 4.4],
    [0.8, 3.4, -1.5, 5.1, 2.1, -3.2, 4.0, 0.4, 6.8, 1.7, -0.9, 3.6, 8.0, 2.5, -2.6, 4.7, 1.0, 6.1, -0.3, 2.9, 5.6, 1.3, -1.8, 3.2, 0.5],
    [2.2, 5.0, 0.3, -2.0, 3.6, 1.1, 6.3, -0.8, 2.8, -3.5, 0.9, 4.5, -1.3, 2.0, 5.8, 0.4, -2.4, 3.1, 7.2, 1.6, -0.7, 4.2, 2.5, -1.9, 1.0],
    [3.0, 0.7, 5.4, -1.2, 2.3, -3.9, 1.5, 4.0, -0.6, 2.6, -2.8, 0.8, 5.9, 1.9, -1.5, 3.4, 0.2, 6.8, 2.1, -0.4, 4.6, 1.3, -2.2, 3.8, 0.9],
    [1.4, -1.1, 3.9, 0.4, -2.5, 2.7, -4.0, 0.9, 5.2, -0.8, 2.2, 6.4, 1.0, -1.7, 4.1, 0.2, 7.3, 2.8, -0.5, 3.5, 1.6, 5.7, -1.4, 2.3, 0.7],
    [-0.9, 2.4, -3.1, 1.3, 4.5, -1.6, 2.9, -5.3, 0.6, 3.8, 6.2, 1.2, -2.0, 4.9, 0.1, 7.0, 2.5, -1.1, 3.6, 5.8, 0.9, -2.4, 3.2, 1.7, -0.3],
    [2.0, -0.6, 4.7, 0.9, -2.8, 3.1, 6.0, -1.5, 2.4, -4.2, 0.4, -1.9, 3.3, -3.0, 1.2, 4.8, 0.3, -2.2, 5.6, 1.8, -0.7, 6.9, 2.6, -0.2, 3.5],
    [1.1, 4.0, -1.0, 2.7, 6.3, 0.2, 1.9, -2.6, 0.7, -4.5, -1.4, 1.5, -5.8, 0.0, 3.4, -0.8, 4.9, 1.6, -1.9, 6.0, 2.7, 0.4, -1.2, 3.9, 0.8],
    [-0.5, 2.2, -2.7, 0.6, -4.3, -1.2, 1.8, -5.9, -1.9, 0.3, 3.4, -0.7, 5.5, 1.4, 4.1, -1.5, 7.4, 2.3, 0.1, 4.6, -0.3, 3.0, -3.0, 1.2, 5.8],
    [1.9, -0.9, 3.7, -3.1, 0.5, -4.9, -1.8, 1.0, -6.6, -0.4, 2.2, -3.5, 1.3, 4.7, -0.1, 3.3, 6.2, 0.8, 4.0, -1.3, 2.5, 5.1, 0.4, -2.3, 1.6],
    [-0.6, -3.1, 1.2, -5.0, -1.4, 0.4, -3.9, 2.6, -0.3, 4.3, 1.7, 6.1, 3.0, -0.8, 5.0, 1.4, 7.8, 2.2, -1.9, 0.2, 3.6, -3.6, -1.1, 2.0, -5.6],
    [-2.2, 1.0, -1.1, 3.3, 0.3, 5.4, 2.0, -0.4, 6.8, 3.4, 1.2, -1.6, 4.4, -3.0, 0.6, -5.0, -0.9, 2.3, -3.7, -0.2, 2.8, 5.9, 0.9, -1.4, 4.0],
    [1.5, 4.8, -0.5, 2.6, 6.9, 0.5, -2.0, 1.9, -4.1, -0.3, 3.4, -1.2, 1.0, -2.7, 5.4, 2.1, -0.6, 4.1, 0.2, -1.7, 3.0, -5.1, 1.3, 4.5, 0.0],
    [1.6, -0.8, 3.1, 0.5, -2.0],
]

# ---------------------------------------------------------------- spectra
# below ~2.2 cpy: (frequency cpy, amplitude mm) at the turning points of each curve
sx_red_lo = [(0.200, 0.25), (0.210, 0.20), (0.237, 0.41), (0.263, 0.17), (0.299, 0.63), (0.343, 0.13),
             (0.400, 0.77), (0.444, 0.07), (0.470, 0.20), (0.520, 0.42), (0.570, 0.52), (0.608, 0.57),
             (0.649, 0.31), (0.692, 0.90), (0.739, 0.10), (0.775, 0.63), (0.809, 0.15), (0.840, 0.42),
             (0.868, 0.04), (0.920, 0.59), (0.950, 0.28), (1.000, 2.53), (1.040, 0.24), (1.070, 0.94),
             (1.116, 0.06), (1.158, 0.28), (1.206, 0.02), (1.278, 0.35), (1.328, 0.03), (1.363, 0.50),
             (1.417, 0.04), (1.444, 0.32), (1.501, 0.05), (1.612, 0.35), (1.654, 0.05), (1.697, 0.40),
             (1.764, 0.08), (1.834, 0.30), (1.931, 0.66), (1.975, 0.04), (2.046, 0.57), (2.100, 0.08),
             (2.176, 0.59), (2.220, 0.15)]
sx_blue_lo = [(0.200, 0.33), (0.210, 0.35), (0.241, 0.04), (0.275, 0.41), (0.309, 0.15), (0.343, 0.12),
              (0.394, 0.26), (0.431, 0.02), (0.458, 0.35), (0.486, 0.06), (0.521, 0.44), (0.567, 0.07),
              (0.605, 0.63), (0.649, 0.20), (0.729, 0.72), (0.758, 0.20), (0.793, 0.46), (0.821, 0.13),
              (0.854, 0.31), (0.873, 0.01), (0.935, 0.50), (0.956, 0.02), (0.994, 1.71), (1.026, 0.06),
              (1.060, 1.01), (1.080, 0.57), (1.112, 1.12), (1.141, 0.17), (1.198, 0.57), (1.245, 0.06),
              (1.280, 0.42), (1.328, 0.04), (1.398, 0.53), (1.444, 0.10), (1.501, 0.51), (1.550, 0.04),
              (1.601, 0.50), (1.654, 0.07), (1.697, 0.50), (1.764, 0.07), (1.834, 0.50), (1.912, 0.07),
              (2.007, 0.97), (2.073, 0.20), (2.127, 0.50), (2.197, 0.09)]
sy_red_lo = [(0.200, 0.63), (0.213, 0.48), (0.247, 1.08), (0.285, 0.48), (0.301, 0.55), (0.338, 0.17),
             (0.413, 0.70), (0.452, 0.66), (0.486, 0.37), (0.510, 0.42), (0.608, 0.07), (0.692, 0.62),
             (0.734, 0.18), (0.758, 0.38), (0.793, 0.07), (0.827, 0.37), (0.862, 0.04), (0.926, 0.73),
             (0.950, 0.22), (1.003, 2.90), (1.043, 0.66), (1.063, 0.15), (1.160, 0.55), (1.198, 0.07),
             (1.278, 0.44), (1.319, 0.04), (1.398, 0.40), (1.454, 0.05), (1.550, 0.29), (1.612, 0.06),
             (1.700, 0.25), (1.780, 0.05), (1.860, 0.30), (1.950, 0.06), (2.040, 0.26), (2.120, 0.04),
             (2.200, 0.22)]
sy_blue_lo = [(0.200, 0.90), (0.210, 0.97), (0.251, 0.01), (0.272, 0.31), (0.297, 0.09), (0.346, 0.99),
              (0.385, 0.55), (0.411, 0.71), (0.452, 0.09), (0.470, 0.18), (0.502, 0.07), (0.574, 0.40),
              (0.595, 0.26), (0.639, 0.79), (0.671, 0.04), (0.739, 0.55), (0.768, 0.18), (0.806, 0.44),
              (0.835, 0.29), (0.882, 0.72), (0.902, 0.23), (0.931, 0.97), (0.956, 0.23), (1.003, 3.78),
              (1.036, 0.29), (1.073, 1.76), (1.116, 0.11), (1.138, 0.66), (1.167, 0.15), (1.206, 0.40),
              (1.237, 0.04), (1.299, 0.28), (1.341, 0.04), (1.398, 0.37), (1.454, 0.11), (1.501, 0.44),
              (1.550, 0.04), (1.612, 0.49), (1.665, 0.15), (1.736, 0.40), (1.793, 0.51), (1.834, 0.09),
              (1.912, 0.55), (1.956, 0.22), (2.040, 0.67), (2.106, 0.46), (2.176, 0.15), (2.225, 0.50)]
sz_red_lo = [(0.200, 0.55), (0.207, 0.39), (0.231, 1.36), (0.269, 2.06), (0.294, 1.52), (0.310, 0.62),
             (0.342, 1.61), (0.384, 0.13), (0.432, 0.52), (0.454, 0.17), (0.497, 1.52), (0.551, 0.30),
             (0.584, 0.64), (0.607, 0.10), (0.643, 1.00), (0.664, 0.88), (0.690, 1.03), (0.736, 0.49),
             (0.768, 1.20), (0.785, 0.30), (0.829, 1.42), (0.851, 0.62), (0.879, 1.00), (0.908, 0.25),
             (0.929, 2.00), (0.959, 0.26), (1.000, 6.03), (1.050, 1.26), (1.074, 1.65), (1.102, 0.75),
             (1.127, 1.16), (1.156, 0.36), (1.194, 1.00), (1.233, 0.49), (1.307, 1.00), (1.359, 0.30),
             (1.449, 0.88), (1.506, 0.17), (1.623, 1.13), (1.675, 0.88), (1.770, 1.03), (1.828, 0.26),
             (1.988, 1.65), (2.053, 0.30), (2.134, 0.68), (2.200, 0.35)]
sz_blue_lo = [(0.200, 0.13), (0.209, 0.10), (0.231, 0.55), (0.242, 0.64), (0.271, 0.77), (0.287, 0.94),
              (0.300, 0.88), (0.327, 0.17), (0.353, 0.10), (0.362, 0.01), (0.399, 0.64), (0.439, 0.08),
              (0.461, 0.30), (0.484, 0.23), (0.516, 0.42), (0.551, 0.17), (0.569, 0.26), (0.597, 0.01),
              (0.658, 0.97), (0.690, 1.00), (0.708, 1.09), (0.741, 0.49), (0.798, 1.22), (0.837, 0.75),
              (0.865, 1.13), (0.899, 0.26), (0.938, 1.07), (0.959, 0.36), (0.994, 3.22), (1.039, 0.77),
              (1.077, 3.17), (1.119, 0.49), (1.156, 1.00), (1.194, 0.36), (1.233, 1.07), (1.274, 0.55),
              (1.337, 0.72), (1.403, 0.17), (1.473, 0.55), (1.546, 0.00), (1.638, 0.36), (1.703, 0.17),
              (1.816, 0.42), (1.906, 0.30), (2.001, 1.45), (2.066, 0.36), (2.120, 1.65), (2.189, 0.30)]

# above 2.25 cpy: amplitudes on a log-spaced frequency grid (red series ends near 26 cpy)
hf_f_min, hf_f_max, hf_count = 2.25, 40.0, 150
sx_blue_hf = [0.32, 0.08, 0.41, 0.15, 0.36, 0.05, 0.28, 0.44, 0.12, 0.33, 0.06, 0.47, 0.21, 0.38, 0.10, 0.55, 0.72, 0.93, 0.64, 0.30,
              0.48, 0.14, 0.42, 0.07, 0.35, 0.22, 0.46, 0.09, 0.31, 0.04, 0.38, 0.18, 0.50, 0.11, 0.29, 0.40, 0.06, 0.33, 0.16, 0.27,
              0.05, 0.36, 0.12, 0.30, 0.08, 0.25, 0.34, 0.10, 0.21, 0.03, 0.29, 0.14, 0.32, 0.07, 0.24, 0.18, 0.30, 0.04, 0.22, 0.13,
              0.27, 0.06, 0.23, 0.16, 0.31, 0.09, 0.20, 0.03, 0.26, 0.12, 0.19, 0.28, 0.05, 0.22, 0.14, 0.25, 0.08, 0.18, 0.24, 0.04,
              0.21, 0.11, 0.27, 0.06, 0.17, 0.23, 0.09, 0.20, 0.03, 0.22, 0.13, 0.25, 0.07, 0.18, 0.21, 0.05, 0.24, 0.10, 0.16, 0.26,
              0.04, 0.19, 0.12, 0.23, 0.06, 0.17, 0.25, 0.08, 0.20, 0.14, 0.22, 0.05, 0.18, 0.24, 0.09, 0.21, 0.03, 0.19, 0.26, 0.11,
              0.17, 0.23, 0.07, 0.28, 0.35, 0.12, 0.20, 0.06, 0.14, 0.09, 0.13, 0.05, 0.11, 0.08, 0.15, 0.04, 0.12, 0.07, 0.10, 0.13,
              0.05, 0.11, 0.08, 0.14, 0.06, 0.10, 0.04, 0.12, 0.07, 0.09]
sx_red_hf = [0.18, 0.42, 0.07, 0.30, 0.12, 0.45, 0.20, 0.05, 0.37, 0.14, 0.26, 0.03, 0.33, 0.16, 0.40, 0.09, 0.24, 0.35, 0.06, 0.28,
             0.11, 0.36, 0.04, 0.25, 0.17, 0.31, 0.08, 0.41, 0.13, 0.22, 0.05, 0.34, 0.19, 0.46, 0.10, 0.27, 0.38, 0.15, 0.54, 0.21,
             0.07, 0.30, 0.12, 0.26, 0.03, 0.33, 0.17, 0.24, 0.09, 0.29, 0.14, 0.22, 0.04, 0.31, 0.11, 0.19, 0.27, 0.06, 0.23, 0.15,
             0.30, 0.08, 0.21, 0.13, 0.26, 0.03, 0.18, 0.28, 0.10, 0.22, 0.05, 0.25, 0.16, 0.29, 0.07, 0.20, 0.12, 0.24, 0.04, 0.27,
             0.14, 0.19, 0.06, 0.31, 0.11, 0.23, 0.17, 0.08, 0.26, 0.13, 0.21, 0.03, 0.25, 0.15, 0.28, 0.09, 0.19, 0.12, 0.27, 0.05,
             0.22, 0.16, 0.30, 0.07, 0.20, 0.11, 0.26, 0.14, 0.23, 0.04, 0.28, 0.13, 0.21, 0.08, 0.31, 0.17, 0.25, 0.06, 0.33, 0.12,
             0.27, 0.20, 0.36, 0.10, 0.29, 0.15, 0.22]
sy_blue_hf = [0.22, 0.37, 0.10, 0.29, 0.05, 0.33, 0.14, 0.25, 0.08, 0.30, 0.18, 0.48, 0.60, 0.31, 0.58, 0.42, 0.66, 0.99, 0.72, 0.35,
              0.20, 0.38, 0.09, 0.31, 0.15, 0.27, 0.06, 0.33, 0.19, 0.46, 0.52, 0.70, 0.41, 0.16, 0.30, 0.07, 0.26, 0.13, 0.34, 0.05,
              0.24, 0.15, 0.31, 0.09, 0.36, 0.18, 0.28, 0.04, 0.25, 0.12, 0.30, 0.21, 0.41, 0.55, 0.23, 0.10, 0.27, 0.06, 0.22, 0.33,
              0.44, 0.17, 0.26, 0.05, 0.20, 0.13, 0.29, 0.08, 0.23, 0.16, 0.27, 0.04, 0.21, 0.12, 0.25, 0.07, 0.19, 0.28, 0.10, 0.22,
              0.06, 0.24, 0.15, 0.20, 0.03, 0.26, 0.11, 0.18, 0.23, 0.08, 0.21, 0.13, 0.17, 0.05, 0.22, 0.10, 0.19, 0.15, 0.24, 0.07,
              0.18, 0.12, 0.21, 0.04, 0.16, 0.20, 0.09, 0.23, 0.13, 0.17, 0.06, 0.19, 0.14, 0.22, 0.08, 0.18, 0.11, 0.21, 0.05, 0.16,
              0.20, 0.12, 0.18, 0.31, 0.22, 0.09, 0.15, 0.05, 0.11, 0.07, 0.10, 0.04, 0.09, 0.06, 0.12, 0.03, 0.08, 0.11, 0.05, 0.09,
              0.07, 0.10, 0.04, 0.08, 0.11, 0.05, 0.09, 0.06, 0.10, 0.07]
sy_red_hf = [0.08, 0.20, 0.04, 0.15, 0.27, 0.06, 0.18, 0.11, 0.24, 0.03, 0.16, 0.09, 0.21, 0.05, 0.13, 0.25, 0.07, 0.19, 0.12, 0.22,
             0.04, 0.17, 0.10, 0.26, 0.06, 0.20, 0.14, 0.03, 0.23, 0.09, 0.18, 0.12, 0.28, 0.05, 0.21, 0.15, 0.08, 0.24, 0.11, 0.30,
             0.06, 0.19, 0.13, 0.25, 0.04, 0.22, 0.10, 0.17, 0.27, 0.08, 0.20, 0.03, 0.16, 0.23, 0.09, 0.18, 0.12, 0.26, 0.05, 0.21,
             0.14, 0.07, 0.24, 0.11, 0.19, 0.04, 0.22, 0.15, 0.08, 0.20, 0.13, 0.25, 0.06, 0.18, 0.10, 0.23, 0.03, 0.17, 0.21, 0.09,
             0.15, 0.05, 0.22, 0.12, 0.19, 0.07, 0.24, 0.14, 0.10, 0.20, 0.04, 0.18, 0.11, 0.23, 0.08, 0.16, 0.21, 0.06, 0.19, 0.13,
             0.22, 0.09, 0.17, 0.05, 0.20, 0.12, 0.24, 0.07, 0.15, 0.19, 0.10, 0.21, 0.04, 0.16, 0.23, 0.08, 0.18, 0.13, 0.26, 0.06,
             0.19, 0.11, 0.22, 0.09, 0.17, 0.07, 0.14]
sz_blue_hf = [0.35, 0.62, 0.18, 0.48, 0.10, 0.55, 0.27, 0.40, 0.12, 0.58, 0.30, 0.75, 0.45, 1.05, 1.26, 0.70, 2.20, 3.67, 1.10, 0.94,
              0.40, 0.72, 0.20, 0.63, 0.35, 0.55, 0.12, 0.66, 0.30, 0.48, 0.70, 1.43, 0.85, 0.25, 0.60, 0.15, 0.52, 0.33, 0.45, 0.08,
              0.38, 0.65, 1.10, 2.25, 1.26, 0.42, 0.20, 0.55, 0.10, 0.40, 0.28, 0.60, 0.75, 1.29, 0.50, 0.18, 0.44, 0.09, 0.37, 0.52,
              0.80, 1.58, 0.62, 0.25, 0.47, 0.12, 0.40, 0.30, 0.72, 0.20, 0.45, 0.08, 0.38, 0.26, 0.50, 0.14, 0.36, 0.22, 0.43, 0.62,
              0.18, 0.40, 0.10, 0.35, 0.64, 0.28, 0.45, 0.07, 0.33, 0.20, 0.41, 0.12, 0.30, 0.48, 0.16, 0.37, 0.05, 0.29, 0.42, 0.22,
              0.64, 0.31, 0.14, 0.36, 0.09, 0.27, 0.40, 0.18, 0.32, 0.06, 0.28, 0.38, 0.13, 0.30, 0.21, 0.35, 0.08, 0.26, 0.39, 0.15,
              0.30, 0.11, 0.42, 0.25, 0.88, 0.34, 0.20, 0.28, 0.12, 0.17, 0.08, 0.15, 0.10, 0.13, 0.06, 0.14, 0.09, 0.12, 0.05, 0.11,
              0.08, 0.13, 0.06, 0.10, 0.12, 0.07, 0.11, 0.05, 0.09, 0.08]
sz_red_hf = [0.55, 0.20, 0.68, 0.32, 0.12, 0.58, 0.40, 0.75, 0.25, 0.50, 0.15, 0.62, 0.35, 0.80, 0.45, 0.22, 0.60, 0.78, 0.30, 0.52,
             0.10, 0.46, 0.65, 0.28, 0.55, 0.18, 0.70, 0.38, 0.08, 0.50, 0.32, 0.60, 0.15, 0.44, 0.58, 0.22, 0.48, 0.05, 0.40, 0.27,
             0.55, 0.12, 0.36, 0.20, 0.62, 0.30, 0.09, 0.45, 0.25, 0.52, 0.14, 0.38, 0.58, 0.22, 0.46, 0.06, 0.34, 0.50, 0.18, 0.42,
             0.28, 0.55, 0.10, 0.40, 0.24, 0.48, 0.15, 0.36, 0.60, 0.20, 0.44, 0.08, 0.32, 0.50, 0.16, 0.39, 0.26, 0.54, 0.12, 0.35,
             0.22, 0.47, 0.06, 0.38, 0.28, 0.52, 0.14, 0.41, 0.20, 0.33, 0.48, 0.18, 0.45, 0.92, 0.30, 0.10, 0.40, 0.25, 0.50, 0.15,
             0.36, 0.22, 0.55, 0.08, 0.42, 0.30, 0.48, 0.17, 0.38, 0.26, 0.52, 0.12, 0.44, 0.20, 0.35, 0.50, 0.09, 0.40, 0.28, 0.55,
             0.18, 0.45, 0.32, 0.60, 0.24, 0.50, 0.30]

draconitic_harmonics = [1.04, 2.08, 3.12, 4.16, 5.20, 6.24, 7.28, 8.32, 9.36, 10.40, 11.44, 12.48, 13.52, 14.56, 15.60]
fortnightly_lines = [24.5, 25.15, 25.8, 26.65, 27.5]

year_ticks = [1996, 2000, 2004, 2008, 2012]
freq_ticks = [0.2, 0.5, 1, 2, 5, 10, 20]
freq_tick_labels = ['0.2', '0.5', '1', '2', '5', '10', '20']

RED, BLUE, CYAN = '#ff0000', '#0000ff', '#00ffff'


# ---------------------------------------------------------------- helpers
def monotone_path(u, v):
    """Cubic Bezier path through (u, v) with monotone (Fritsch-Butland) tangents."""
    u = np.asarray(u, float)
    v = np.asarray(v, float)
    h = np.diff(u)
    d = np.diff(v) / h
    m = np.empty_like(v)
    m[0], m[-1] = d[0], d[-1]
    for k in range(1, len(v) - 1):
        if d[k - 1] * d[k] <= 0:
            m[k] = 0.0
        else:
            w1 = 2 * h[k] + h[k - 1]
            w2 = h[k] + 2 * h[k - 1]
            m[k] = (w1 + w2) / (w1 / d[k - 1] + w2 / d[k])
    verts = [(u[0], v[0])]
    codes = [Path.MOVETO]
    for k in range(len(h)):
        verts += [(u[k] + h[k] / 3, v[k] + m[k] * h[k] / 3),
                  (u[k + 1] - h[k] / 3, v[k + 1] - m[k + 1] * h[k] / 3),
                  (u[k + 1], v[k + 1])]
        codes += [Path.CURVE4] * 3
    return np.array(verts), codes


def draw_curve(ax, x, y, color, lw, logx=False):
    x = np.asarray(x, float)
    u = np.log10(x) if logx else x
    verts, codes = monotone_path(u, y)
    if logx:
        verts[:, 0] = 10 ** verts[:, 0]
    ax.add_patch(PathPatch(Path(verts, codes), fill=False, edgecolor=color, lw=lw,
                           zorder=3, joinstyle='round', capstyle='round'))


def draw_points(ax, rows, offset):
    t, v = [], []
    for i, row in enumerate(rows):
        for k, val in enumerate(row):
            t.append(pts_start_year + i + (k + offset) * pts_step)
            v.append(val)
    ax.plot(t, v, ls='none', marker='s', ms=2.9, mew=0, color=CYAN, zorder=1)


def style_common(ax):
    for sp in ax.spines.values():
        sp.set_linewidth(1.5)
        sp.set_zorder(4)
    ax.tick_params(which='both', direction='out', top=True, right=True,
                   length=5, width=1.0, labelsize=11.5, pad=3)
    ax.set_axisbelow('line')


def style_time(ax, ylim, major, minor, label, top_labels=False, bottom_labels=False):
    ax.set_xlim(1994.0, 2015.2)
    ax.set_ylim(*ylim)
    ax.xaxis.set_major_locator(FixedLocator(year_ticks))
    ax.xaxis.set_minor_locator(MultipleLocator(1))
    ax.yaxis.set_major_locator(MultipleLocator(major))
    ax.yaxis.set_minor_locator(MultipleLocator(minor))
    style_common(ax)
    ax.tick_params(labeltop=top_labels, labelbottom=bottom_labels)
    ax.grid(True, which='major', color='#1a1a1a', lw=0.9)
    ax.set_ylabel(label, fontsize=12.5)
    ax.yaxis.set_label_coords(-0.1, 0.5)


def style_spec(ax, ymax, major, label_bottom=False):
    ax.set_xscale('log')
    ax.set_xlim(0.2, 40)
    ax.set_ylim(0, ymax)
    ax.xaxis.set_major_locator(FixedLocator(freq_ticks))
    ax.xaxis.set_major_formatter(FixedFormatter(freq_tick_labels))
    ax.xaxis.set_minor_locator(NullLocator())
    ax.yaxis.set_major_locator(MultipleLocator(major))
    ax.yaxis.set_minor_locator(MultipleLocator(major / 2))
    style_common(ax)
    ax.tick_params(labeltop=False, labelbottom=label_bottom)
    ax.yaxis.grid(True, which='major', color='#1a1a1a', lw=0.9)
    for f in (1, 2):
        ax.axvline(f, color='#1a1a1a', lw=0.9, zorder=1.5)
    for f in draconitic_harmonics + fortnightly_lines:
        ax.axvline(f, color='#c4c4c4', lw=1.1, zorder=1)
    ax.set_ylabel('spectral amplitude [mm]', fontsize=11.2)
    ax.yaxis.set_label_coords(-0.07, 0.5)


def spectrum(lo, hf, grid):
    f = [p[0] for p in lo] + list(grid[:len(hf)])
    a = [p[1] for p in lo] + list(hf[:len(grid)])
    return f, a


# ---------------------------------------------------------------- figure
W, H = 1311, 741
fig = plt.figure(figsize=(W / 100, H / 100), dpi=100)

rows_px = [(43, 225), (270, 452), (497, 680)]
left_px = (84, 632)
right_px = (757, 1304)


def add_ax(cols, rows):
    x0, x1 = cols
    y0, y1 = rows
    return fig.add_axes([x0 / W, 1 - y1 / H, (x1 - x0) / W, (y1 - y0) / H])


axL = [add_ax(left_px, r) for r in rows_px]
axR = [add_ax(right_px, r) for r in rows_px]

time_sets = [
    (x_pts, x_pts_core, x_red, x_blue, (-15, 15), 10, 5, 'detrended x$_{CM}$ [mm]'),
    (y_pts, y_pts_core, y_red, y_blue, (-15, 15), 10, 5, 'detrended y$_{CM}$ [mm]'),
    (z_pts, z_pts_core, z_red, z_blue, (-25, 25), 20, 10, 'detrended z$_{CM}$ [mm]'),
]
for i, (ax, (pts, core, red, blue, ylim, major, minor, label)) in enumerate(zip(axL, time_sets)):
    draw_points(ax, pts, 0.5)
    draw_points(ax, core, 0.0)
    draw_curve(ax, [p[0] for p in red], [p[1] for p in red], RED, 1.3)
    draw_curve(ax, [p[0] for p in blue], [p[1] for p in blue], BLUE, 1.3)
    style_time(ax, ylim, major, minor, label, top_labels=(i == 0), bottom_labels=(i == 2))

hf_grid = np.geomspace(hf_f_min, hf_f_max, hf_count)
spec_sets = [
    (sx_red_lo, sx_red_hf, sx_blue_lo, sx_blue_hf, 4, 1),
    (sy_red_lo, sy_red_hf, sy_blue_lo, sy_blue_hf, 4, 1),
    (sz_red_lo, sz_red_hf, sz_blue_lo, sz_blue_hf, 7, 2),
]
for i, (ax, (rlo, rhf, blo, bhf, ymax, major)) in enumerate(zip(axR, spec_sets)):
    f, a = spectrum(rlo, rhf, hf_grid)
    draw_curve(ax, f, a, RED, 1.1, logx=True)
    f, a = spectrum(blo, bhf, hf_grid)
    draw_curve(ax, f, a, BLUE, 1.1, logx=True)
    style_spec(ax, ymax, major, label_bottom=(i == 2))
axR[2].set_xlabel('frequency (cpy)', fontsize=11.5, labelpad=6)

# header above the spectra
hy = 1 - 18 / H
fig.text(1038 / W, 1 - 17 / H, 'GPS draconitic harmonics', ha='center', va='center', fontsize=12.5)
for xa, xb in ((883, 932), (1145, 1195)):
    fig.add_artist(Line2D([xa / W, xb / W], [hy, hy], transform=fig.transFigure,
                          color='black', lw=1.0, dashes=(5.5, 1.6)))
fig.text(1260 / W, 1 - 17 / H, '~14 d', ha='center', va='center', fontsize=12.5)

fig.savefig('out.png', dpi=100)
